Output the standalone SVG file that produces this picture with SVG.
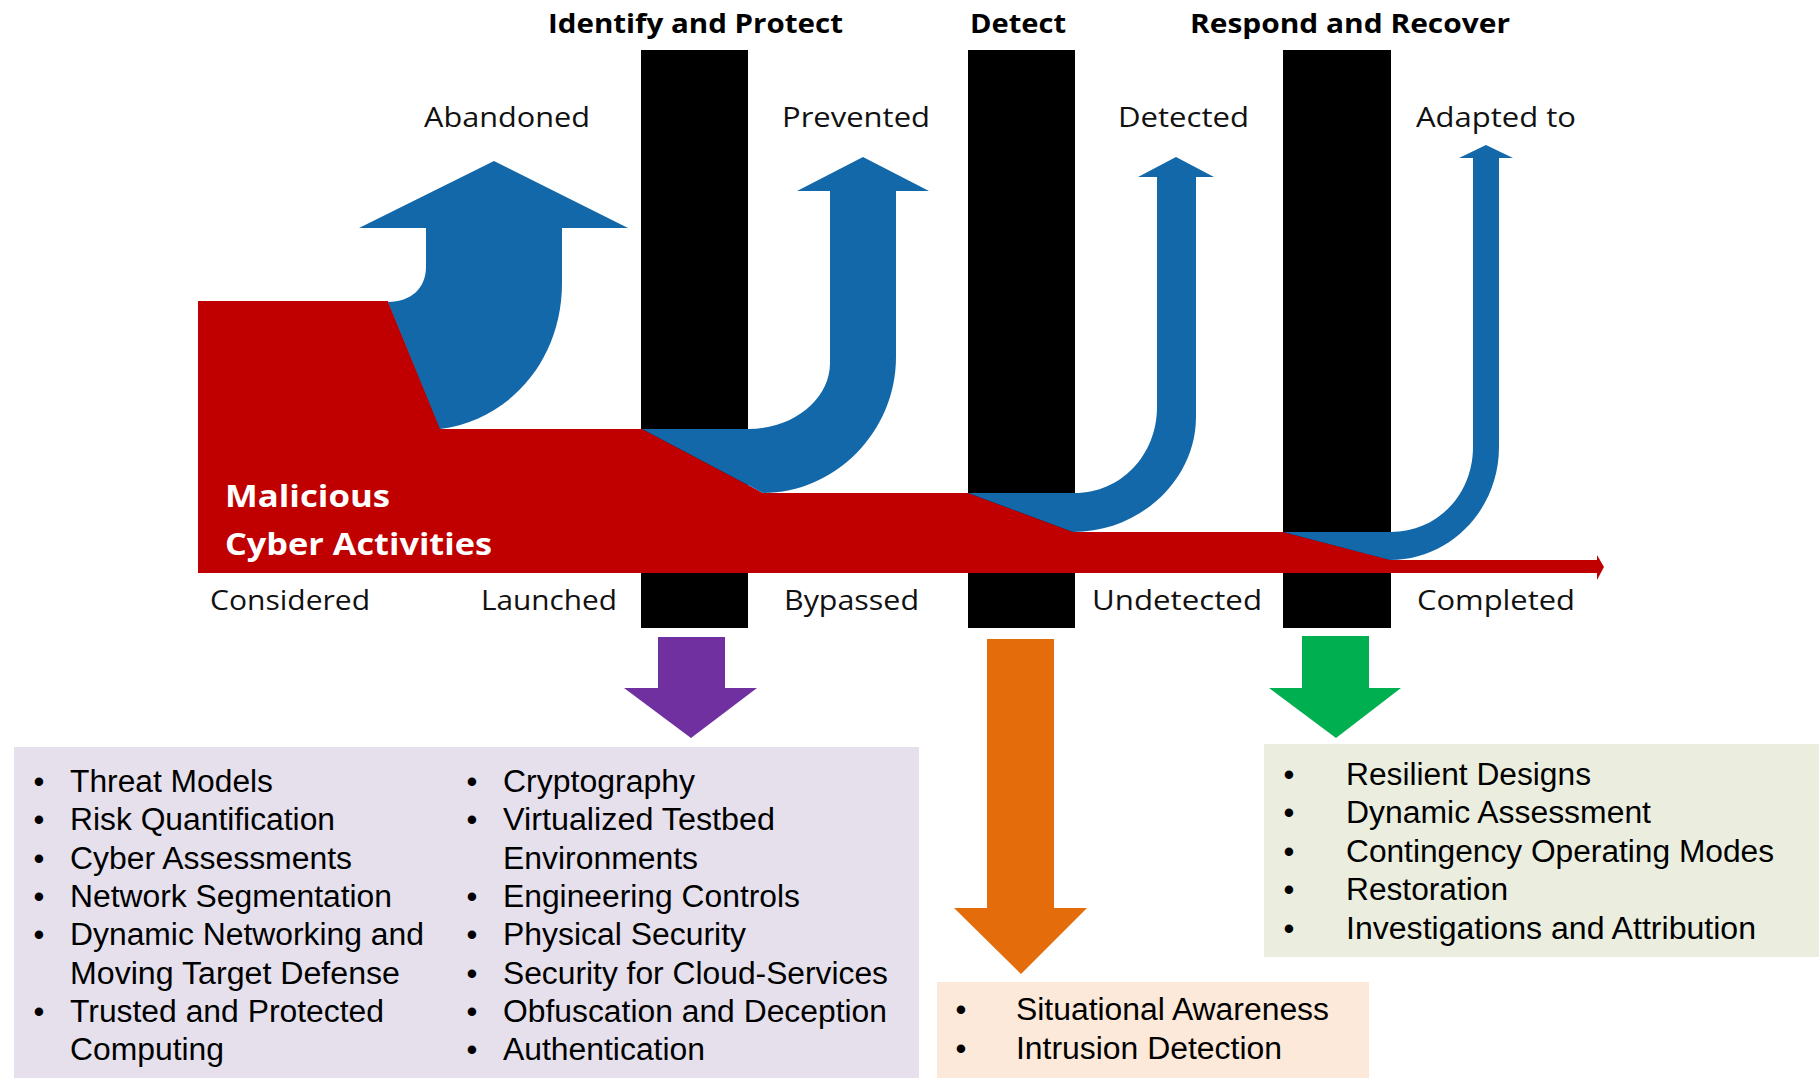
<svg xmlns="http://www.w3.org/2000/svg" width="1819" height="1078" viewBox="0 0 1819 1078">
<style>
.hdr{font-family:"Open Sans","Noto Sans",sans-serif;font-weight:bold;font-size:27px;fill:#000}
.lbl{font-family:"Open Sans","Noto Sans",sans-serif;font-size:28px;fill:#111}
.mal{font-family:"Open Sans","Noto Sans",sans-serif;font-weight:bold;font-size:31px;fill:#fff}
.it{font-family:"Liberation Sans",Arial,sans-serif;font-size:31px;fill:#000}
.bar{fill:#000}
.blue{fill:#1368AA}
</style>
<rect width="1819" height="1078" fill="#fff"/>
<g id="bars">
<rect id="bar-identify" class="bar" x="641" y="50" width="107" height="578"/>
<rect id="bar-detect" class="bar" x="968" y="50" width="107" height="578"/>
<rect id="bar-respond" class="bar" x="1283" y="50" width="108" height="578"/>
</g>
<g id="flow">
<path id="malicious-flow" fill="#C00000" d="M198,301 L388,301 L441,429 L642,429 L763,493 L968,493 L1073,532 L1283,532 L1391,560 L1597,560 L1597,555 L1604,567 L1597,580 L1597,573 L198,573 Z"/>
<path id="abandoned" class="blue" d="M388,302 C411,302 426,288 426,267 L426,228 L359,228 L494,161 L628,228 L562,228 L562,283 C562,360 510,420 440,429 Z"/>
<path id="prevented" class="blue" d="M642,429 L748,429 C794,429 830,399 830,363 L830,191 L797,191 L863,157 L929,191 L896,191 L896,357 C896,432 835,493 763,493 Z"/>
<path id="detected" class="blue" d="M968,493 L1075,493 C1121,493 1157,455 1157,407 L1157,177 L1138,177 L1176,157 L1214,177 L1196,177 L1196,417 C1196,480 1140,532 1073,532 Z"/>
<path id="adapted" class="blue" d="M1283,532 L1391,532 C1437,532 1473,495 1473,447 L1473,158 L1459,158 L1486,145 L1513,158 L1499,158 L1499,447 C1499,510 1450,560 1390,560 Z"/>
</g>
<g id="headers">
<text class="hdr" x="548" y="33" textLength="295" lengthAdjust="spacingAndGlyphs">Identify and Protect</text>
<text class="hdr" x="970" y="33" textLength="96" lengthAdjust="spacingAndGlyphs">Detect</text>
<text class="hdr" x="1190" y="33" textLength="320" lengthAdjust="spacingAndGlyphs">Respond and Recover</text>
</g>
<g id="stage-labels">
<text class="lbl" x="424" y="127" textLength="166" lengthAdjust="spacingAndGlyphs">Abandoned</text>
<text class="lbl" x="782" y="127" textLength="148" lengthAdjust="spacingAndGlyphs">Prevented</text>
<text class="lbl" x="1118" y="127" textLength="131" lengthAdjust="spacingAndGlyphs">Detected</text>
<text class="lbl" x="1416" y="127" textLength="160" lengthAdjust="spacingAndGlyphs">Adapted to</text>
<text class="lbl" x="210" y="610" textLength="160" lengthAdjust="spacingAndGlyphs">Considered</text>
<text class="lbl" x="481" y="610" textLength="136" lengthAdjust="spacingAndGlyphs">Launched</text>
<text class="lbl" x="784" y="610" textLength="135" lengthAdjust="spacingAndGlyphs">Bypassed</text>
<text class="lbl" x="1092" y="610" textLength="170" lengthAdjust="spacingAndGlyphs">Undetected</text>
<text class="lbl" x="1417" y="610" textLength="158" lengthAdjust="spacingAndGlyphs">Completed</text>
<text class="mal" x="225" y="507" textLength="165" lengthAdjust="spacingAndGlyphs">Malicious</text>
<text class="mal" x="225" y="555" textLength="267" lengthAdjust="spacingAndGlyphs">Cyber Activities</text>
</g>
<g id="down-arrows">
<path id="arrow-protect" fill="#7030A0" d="M658,637 L725,637 L725,688 L757,688 L691,738 L624,688 L658,688 Z"/>
<path id="arrow-detect" fill="#E46C0A" d="M987,639 L1054,639 L1054,908 L1087,908 L1021,974 L954,908 L987,908 Z"/>
<path id="arrow-respond" fill="#00B050" d="M1302,636 L1369,636 L1369,688 L1401,688 L1336,738 L1269,688 L1302,688 Z"/>
</g>
<g id="box-protect">
<rect x="14" y="747" width="905" height="331" fill="#E5E0EC"/>
<g class="it">
<text x="39" y="792" text-anchor="middle">•</text>
<text x="39" y="830" text-anchor="middle">•</text>
<text x="39" y="869" text-anchor="middle">•</text>
<text x="39" y="907" text-anchor="middle">•</text>
<text x="39" y="945" text-anchor="middle">•</text>
<text x="39" y="1022" text-anchor="middle">•</text>
<text x="70" y="792" textLength="203" lengthAdjust="spacingAndGlyphs">Threat Models</text>
<text x="70" y="830" textLength="265" lengthAdjust="spacingAndGlyphs">Risk Quantification</text>
<text x="70" y="869" textLength="282" lengthAdjust="spacingAndGlyphs">Cyber Assessments</text>
<text x="70" y="907" textLength="322" lengthAdjust="spacingAndGlyphs">Network Segmentation</text>
<text x="70" y="945" textLength="354" lengthAdjust="spacingAndGlyphs">Dynamic Networking and</text>
<text x="70" y="984" textLength="330" lengthAdjust="spacingAndGlyphs">Moving Target Defense</text>
<text x="70" y="1022" textLength="314" lengthAdjust="spacingAndGlyphs">Trusted and Protected</text>
<text x="70" y="1060" textLength="154" lengthAdjust="spacingAndGlyphs">Computing</text>
<text x="472" y="792" text-anchor="middle">•</text>
<text x="472" y="830" text-anchor="middle">•</text>
<text x="472" y="907" text-anchor="middle">•</text>
<text x="472" y="945" text-anchor="middle">•</text>
<text x="472" y="984" text-anchor="middle">•</text>
<text x="472" y="1022" text-anchor="middle">•</text>
<text x="472" y="1060" text-anchor="middle">•</text>
<text x="503" y="792" textLength="192" lengthAdjust="spacingAndGlyphs">Cryptography</text>
<text x="503" y="830" textLength="272" lengthAdjust="spacingAndGlyphs">Virtualized Testbed</text>
<text x="503" y="869" textLength="195" lengthAdjust="spacingAndGlyphs">Environments</text>
<text x="503" y="907" textLength="297" lengthAdjust="spacingAndGlyphs">Engineering Controls</text>
<text x="503" y="945" textLength="243" lengthAdjust="spacingAndGlyphs">Physical Security</text>
<text x="503" y="984" textLength="385" lengthAdjust="spacingAndGlyphs">Security for Cloud-Services</text>
<text x="503" y="1022" textLength="384" lengthAdjust="spacingAndGlyphs">Obfuscation and Deception</text>
<text x="503" y="1060" textLength="202" lengthAdjust="spacingAndGlyphs">Authentication</text>
</g>
</g>
<g id="box-detect">
<rect x="937" y="982" width="432" height="96" fill="#FDE9D9"/>
<g class="it">
<text x="961" y="1020" text-anchor="middle">•</text>
<text x="961" y="1059" text-anchor="middle">•</text>
<text x="1016" y="1020" textLength="313" lengthAdjust="spacingAndGlyphs">Situational Awareness</text>
<text x="1016" y="1059" textLength="266" lengthAdjust="spacingAndGlyphs">Intrusion Detection</text>
</g>
</g>
<g id="box-respond">
<rect x="1264" y="744" width="555" height="213" fill="#EBEEDF"/>
<g class="it">
<text x="1289" y="785" text-anchor="middle">•</text>
<text x="1289" y="823" text-anchor="middle">•</text>
<text x="1289" y="862" text-anchor="middle">•</text>
<text x="1289" y="900" text-anchor="middle">•</text>
<text x="1289" y="939" text-anchor="middle">•</text>
<text x="1346" y="785" textLength="245" lengthAdjust="spacingAndGlyphs">Resilient Designs</text>
<text x="1346" y="823" textLength="305" lengthAdjust="spacingAndGlyphs">Dynamic Assessment</text>
<text x="1346" y="862" textLength="428" lengthAdjust="spacingAndGlyphs">Contingency Operating Modes</text>
<text x="1346" y="900" textLength="162" lengthAdjust="spacingAndGlyphs">Restoration</text>
<text x="1346" y="939" textLength="410" lengthAdjust="spacingAndGlyphs">Investigations and Attribution</text>
</g>
</g>
</svg>
